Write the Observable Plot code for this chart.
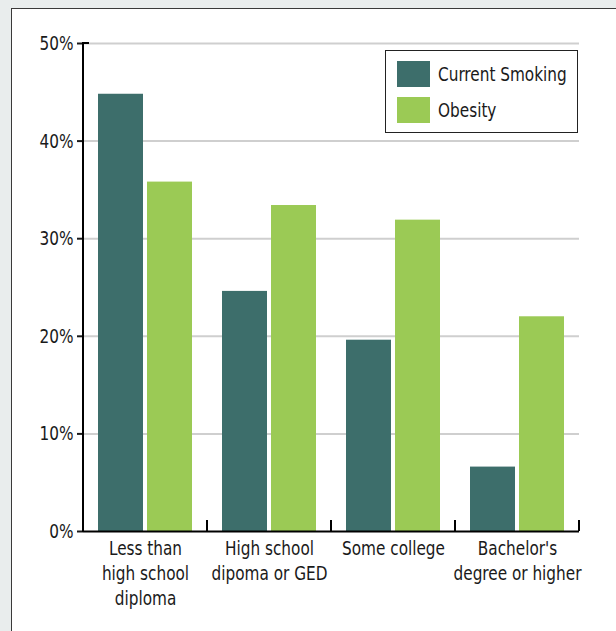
<!DOCTYPE html>
<html>
<head>
<meta charset="utf-8">
<script src="https://cdn.jsdelivr.net/npm/d3@7"></script>
<script src="https://cdn.jsdelivr.net/npm/@observablehq/plot@0.6"></script>
<style>
  html, body { margin: 0; padding: 0; width: 616px; height: 631px; overflow: hidden; background: #e9eded; }
  #panel { position: absolute; left: 11px; top: 8px; width: 800px; height: 800px; box-sizing: border-box; border: 1.5px solid #3a3a3a; background: #fff; }
  #chart { position: absolute; left: 0; top: 0; }
  .fnt { font-family: "Liberation Sans Narrow", "Arial Narrow", "DejaVu Sans Condensed", sans-serif; }
  #legend { position: absolute; left: 385px; top: 50px; width: 193px; height: 83px; box-sizing: border-box; border: 1.2px solid #222; background: #fff; }
  .sw { position: absolute; left: 11px; width: 33px; height: 26px; }
  .lt { position: absolute; left: 52px; font-size: 20px; color: #1a1a1a; line-height: 26px; white-space: nowrap; transform: scaleX(0.85); transform-origin: left center; }
</style>
</head>
<body>
<div id="panel"></div>
<div id="chart" class="fnt"></div>
<div id="legend" class="fnt"></div>
<script>
const categories = ["Less than\nhigh school\ndiploma", "High school\ndipoma or GED", "Some college", "Bachelor's\ndegree or higher"];
const series = ["Current Smoking", "Obesity"];
const smoking = [44.8, 24.6, 19.6, 6.6];
const obesity = [35.8, 33.4, 31.9, 22.0];
const yTicks = [0, 10, 20, 30, 40, 50];
const colors = ["#3d6e6b", "#9bca55"];

const data = [];
categories.forEach((c, i) => {
  data.push({category: c, series: series[0], value: smoking[i]});
  data.push({category: c, series: series[1], value: obesity[i]});
});

const plot = Plot.plot({
  width: 616,
  height: 631,
  marginLeft: 82,
  marginRight: 36,
  marginTop: 43,
  marginBottom: 100,
  style: {background: "transparent", fontFamily: '"Liberation Sans Narrow", "Arial Narrow", "DejaVu Sans Condensed", sans-serif', color: "#1a1a1a", overflow: "visible"},
  fx: {domain: categories, padding: 0, label: null},
  x: {domain: series, paddingInner: 0.08, paddingOuter: 0.285, axis: null},
  y: {domain: [0, 50], label: null},
  color: {domain: series, range: colors},
  marks: [
    Plot.gridY(yTicks.filter(d => d > 0), {stroke: "#cfcfcf", strokeOpacity: 1, strokeWidth: 2}),
    Plot.barY(data, {fx: "category", x: "series", y: "value", fill: "series"}),
    Plot.axisY(yTicks, {tickSize: 6, tickPadding: 4, tickFormat: d => d + "%", fontSize: 20, strokeWidth: 2, label: null}),
    Plot.axisFx({anchor: "bottom", tickSize: 0, tickPadding: 6, fontSize: 20, lineHeight: 1.25, label: null}),
    Plot.ruleY([0], {stroke: "#000", strokeWidth: 2})
  ]
});
document.getElementById("chart").appendChild(plot);

// condense text horizontally around each label's anchor point
const svg = d3.select(plot);
svg.selectAll("text").each(function () {
  const t = d3.select(this);
  const tr = t.attr("transform");
  if (tr) {
    t.attr("transform", tr + " scale(0.85,1)");
  } else {
    const x = +t.attr("x") || 0;
    t.attr("transform", `translate(${x},0) scale(0.85,1)`).attr("x", 0);
  }
});

// axis line and category boundary ticks from the plot's scales
const fx = plot.scale("fx");
const y = plot.scale("y");
const x0 = fx.apply(categories[0]);
const g = svg.append("g").attr("stroke", "#000").attr("stroke-width", 2);
g.append("line").attr("x1", x0).attr("x2", x0).attr("y1", y.apply(0) + 1).attr("y2", y.apply(50) - 1);
g.append("line").attr("x1", x0 - 1).attr("x2", x0 + 6).attr("y1", y.apply(50)).attr("y2", y.apply(50));
categories.forEach(c => {
  const xb = fx.apply(c) + fx.bandwidth;
  g.append("line").attr("x1", xb).attr("x2", xb).attr("y1", y.apply(0)).attr("y2", y.apply(0) - 11);
});

// legend
const legend = d3.select("#legend");
series.forEach((s, i) => {
  legend.append("div").attr("class", "sw").style("top", (10 + i * 36) + "px").style("background", colors[i]);
  legend.append("div").attr("class", "lt").style("top", (10 + i * 36) + "px").text(s);
});
</script>
</body>
</html>
